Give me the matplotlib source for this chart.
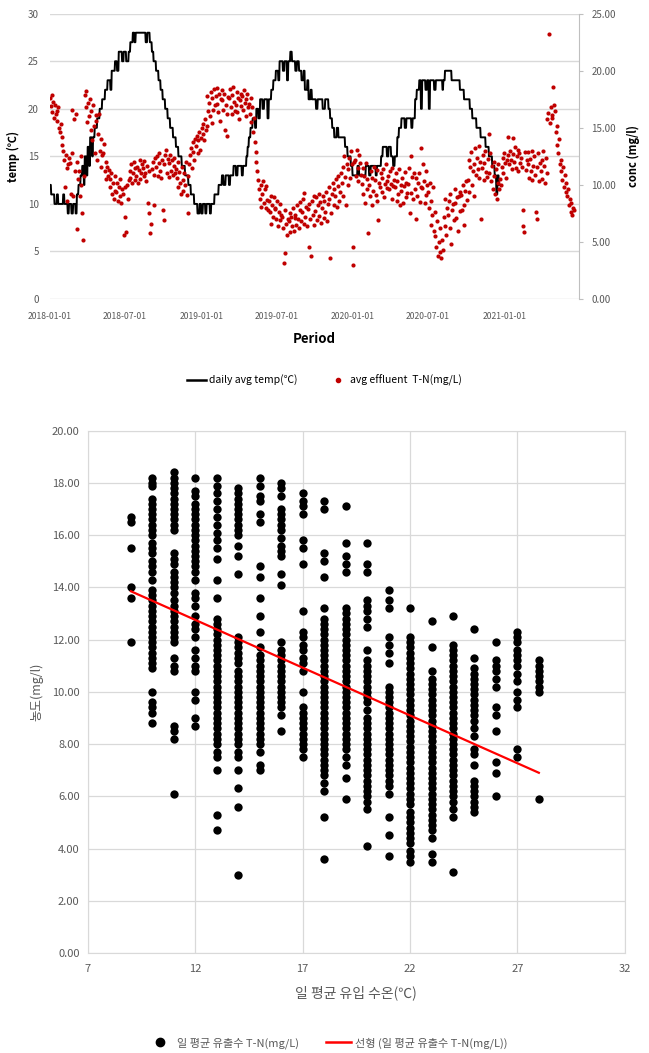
import numpy as np
import pandas as pd
import matplotlib.pyplot as plt
import matplotlib.dates as mdates
from matplotlib.lines import Line2D

plt.rcParams["font.family"] = ["Noto Sans CJK KR", "DejaVu Sans"]

# ---- top chart data: daily inflow temperature (run-length: level, days) ----
START = "2018-01-01"
TEMP_LEVELS = [12, 11, 10, 11, 10, 11, 10, 9, 10, 9, 10, 9, 11, 12, 13, 14, 12, 15, 13, 16,
               14, 17, 15, 17, 18, 19, 20, 21, 22, 23, 22, 24, 25, 24, 26, 25, 26, 25, 26, 27,
               28, 27, 28, 27, 28, 27, 26, 25, 24, 23, 22, 21, 20, 19, 18, 17, 16, 15, 14, 13,
               12, 11, 10, 9, 10, 9, 10, 9, 10, 9, 10, 11, 12, 13, 12, 13, 12, 13, 14, 13,
               14, 13, 14, 15, 16, 17, 18, 19, 18, 20, 19, 21, 20, 21, 19, 21, 22, 23, 24, 23,
               25, 24, 25, 23, 25, 26, 25, 24, 25, 24, 23, 24, 22, 23, 21, 22, 21, 20, 21, 20,
               21, 20, 19, 18, 17, 18, 17, 16, 15, 14, 13, 14, 13, 14, 13, 14, 13, 14, 15, 16,
               15, 16, 15, 14, 15, 17, 18, 19, 18, 19, 18, 19, 21, 22, 23, 20, 23, 22, 23, 20,
               23, 22, 23, 22, 23, 24, 23, 22, 21, 20, 19, 18, 17, 16, 15, 14, 13, 11, 13, 12]
TEMP_RUN_DAYS = [3, 8, 6, 3, 12, 3, 8, 3, 6, 4, 6, 3, 4, 5, 4, 4, 2, 4, 3, 4,
                 2, 5, 2, 4, 6, 6, 6, 7, 6, 7, 3, 8, 5, 4, 8, 4, 6, 6, 4, 6,
                 4, 3, 24, 4, 6, 5, 4, 6, 6, 5, 5, 6, 6, 6, 7, 7, 6, 8, 8, 8,
                 6, 8, 8, 5, 4, 4, 6, 3, 8, 3, 8, 10, 8, 4, 5, 8, 3, 8, 6, 4,
                 10, 3, 8, 3, 3, 4, 5, 6, 3, 5, 4, 6, 4, 8, 3, 6, 5, 6, 6, 3,
                 8, 4, 6, 3, 5, 4, 8, 4, 5, 6, 5, 3, 6, 3, 5, 3, 10, 4, 12, 6,
                 8, 4, 5, 5, 6, 4, 16, 6, 8, 4, 12, 4, 16, 8, 4, 12, 3, 10, 4, 10,
                 4, 6, 5, 4, 6, 4, 6, 8, 4, 12, 3, 6, 4, 6, 4, 3, 8, 4, 4, 3,
                 10, 4, 16, 2, 4, 16, 20, 10, 14, 6, 10, 10, 12, 8, 8, 6, 4, 3, 3, 4]

# ---- top chart data: effluent T-N, one reading every 2 days from START ----
CONC_STEP_DAYS = 2
CONC = [
    17.6, 16.9, 17.9, 16.4, 17.3, 15.9, 17.0, 16.2, 16.5, 15.6, 16.8, 15.0, 14.6, 15.3, 14.2, 13.5,
    13.0, 12.2, 9.8, 12.6, 11.5, 8.6, 11.8, 12.4, 11.9, 9.2, 12.8, 16.6, 9.0, 15.8, 11.2, 16.2,
    12.0, 6.1, 10.5, 11.2, 9.0, 12.5, 10.0, 7.5, 5.2, 10.8, 17.9, 16.8, 18.2, 15.5, 17.2, 16.0,
    17.5, 14.8, 16.5, 13.9, 17.0, 15.2, 12.8, 16.1, 15.6, 12.2, 14.5, 16.2, 13.0, 11.6, 14.0, 12.6,
    12.8, 13.6, 11.2, 10.5, 12.0, 11.6, 10.8, 11.3, 10.5, 9.8, 11.0, 9.2, 10.2, 8.8, 10.8, 9.5,
    9.4, 10.2, 8.6, 9.8, 9.0, 10.5, 8.4, 9.6, 9.2, 5.6, 9.8, 7.2, 5.9, 10.0, 8.8, 10.4,
    11.2, 10.6, 11.8, 10.2, 11.0, 12.0, 10.4, 11.5, 10.8, 11.6, 10.2, 11.3, 12.2, 10.5, 11.0, 11.8,
    11.5, 10.8, 12.1, 11.0, 10.3, 11.7, 8.4, 11.2, 7.5, 5.8, 6.6, 11.4, 12.0, 8.2, 10.9, 12.4,
    11.6, 12.5, 10.8, 11.9, 12.8, 11.2, 10.6, 12.2, 7.8, 6.9, 11.8, 12.6, 13.1, 11.0, 12.3, 10.7,
    11.9, 12.6, 11.2, 12.2, 10.9, 11.7, 12.4, 11.0, 11.4, 10.6, 12.0, 9.8, 11.1, 10.2, 9.2, 11.6,
    10.4, 9.5, 11.0, 10.0, 12.0, 9.1, 10.8, 7.5, 11.8, 12.6, 13.2, 11.5, 12.9, 13.8, 12.2, 14.0,
    13.4, 14.3, 12.8, 13.9, 14.6, 13.1, 14.1, 15.0, 14.5, 15.3, 13.9, 15.8, 14.8, 17.8, 15.2, 16.5,
    17.2, 16.0, 18.1, 15.4, 17.6, 16.6, 18.4, 17.0, 17.8, 18.5, 17.1, 16.4, 18.0, 15.6, 17.5, 18.3,
    17.4, 16.6, 18.0, 14.8, 17.0, 16.2, 14.3, 17.7, 17.6, 18.4, 16.8, 17.9, 16.2, 18.6, 17.3, 16.5,
    17.0, 18.1, 16.4, 17.6, 15.8, 17.4, 18.0, 16.9, 17.8, 16.6, 18.3, 17.2, 16.0, 17.5, 18.0, 16.8,
    17.1, 16.2, 17.6, 15.5, 16.8, 14.6, 15.9, 13.8, 12.9, 12.0, 11.2, 10.4, 9.6, 8.8, 10.0, 8.1,
    9.2, 10.3, 8.4, 9.6, 8.0, 9.9, 8.7, 7.8, 8.6, 7.6, 9.0, 6.6, 8.2, 7.2, 8.9, 7.9,
    8.0, 7.0, 8.6, 6.4, 7.6, 8.3, 6.9, 7.4, 7.2, 6.2, 3.2, 4.0, 7.8, 6.6, 5.6, 7.0,
    6.8, 7.5, 5.9, 7.2, 6.4, 8.0, 6.0, 7.1, 7.4, 6.5, 8.2, 7.0, 6.2, 7.8, 8.5, 6.8,
    7.6, 8.8, 6.6, 9.3, 7.2, 8.1, 6.4, 7.9, 8.3, 4.6, 7.0, 3.8, 8.6, 7.4, 6.5, 9.0,
    7.7, 8.9, 6.9, 8.2, 9.2, 7.3, 8.5, 6.7, 8.0, 9.0, 7.1, 8.6, 7.6, 9.4, 6.8, 8.3,
    8.8, 9.8, 3.6, 7.5, 9.2, 10.2, 8.2, 9.6, 9.0, 10.5, 8.1, 9.9, 10.8, 8.6, 9.4, 11.0,
    10.2, 11.6, 9.0, 12.5, 10.7, 8.2, 11.8, 10.0, 11.4, 12.4, 10.6, 13.0, 11.8, 3.0, 4.6, 12.0,
    12.2, 10.8, 13.1, 11.5, 10.3, 12.6, 11.9, 10.9, 10.1, 11.5, 9.2, 10.8, 8.4, 11.9, 9.6, 10.5,
    5.8, 10.0, 9.0, 11.2, 8.2, 10.6, 9.5, 11.6, 10.4, 9.1, 11.3, 8.6, 6.9, 10.2, 9.8, 11.0,
    10.6, 9.4, 11.4, 8.9, 10.1, 11.8, 9.7, 10.3, 10.8, 9.6, 11.2, 10.1, 8.8, 11.5, 9.9, 10.4,
    9.8, 11.0, 8.6, 10.3, 9.2, 11.4, 8.2, 10.0, 9.5, 10.6, 8.4, 9.9, 11.1, 8.9, 10.2, 9.3,
    10.1, 11.5, 7.5, 9.3, 12.5, 10.7, 8.8, 11.0, 9.6, 10.6, 7.0, 9.0, 10.2, 11.0, 8.5, 9.8,
    13.2, 9.7, 11.8, 10.3, 8.4, 11.2, 9.1, 10.0, 9.4, 8.0, 10.2, 6.5, 8.6, 7.4, 9.8, 6.0,
    7.6, 5.5, 4.6, 6.8, 3.8, 5.0, 4.1, 6.2, 3.6, 5.2, 4.3, 7.2, 8.8, 6.4, 5.6, 8.0,
    7.4, 8.6, 6.2, 9.2, 4.8, 7.8, 8.3, 6.9, 8.4, 9.6, 7.1, 8.9, 6.0, 9.0, 7.7, 9.4,
    9.1, 7.8, 10.0, 8.2, 6.5, 9.5, 10.3, 8.7, 10.4, 12.2, 9.4, 11.6, 12.9, 10.0, 11.2, 9.0,
    11.8, 13.2, 10.9, 12.4, 11.4, 13.4, 10.6, 12.0, 7.0, 11.5, 12.6, 10.4, 11.9, 13.0, 11.1, 10.7,
    12.3, 14.5, 11.0, 12.8, 10.3, 11.7, 9.6, 12.0, 10.8, 9.2, 11.4, 8.8, 10.2, 11.8, 9.6, 10.5,
    10.0, 11.6, 12.4, 11.0, 12.8, 11.9, 10.6, 12.2, 14.2, 12.6, 11.8, 13.0, 12.2, 11.4, 14.1, 12.7,
    12.0, 13.3, 11.5, 12.5, 13.1, 11.2, 12.8, 11.9, 12.4, 11.6, 7.8, 6.4, 5.9, 12.9, 11.3, 12.2,
    11.8, 12.9, 10.6, 12.3, 11.2, 13.0, 10.4, 11.7, 12.5, 10.9, 7.6, 7.0, 11.6, 12.8, 10.3, 11.9,
    11.2, 12.2, 10.5, 13.0, 11.7, 10.2, 12.4, 11.0, 15.8, 16.3, 23.2, 15.4, 16.8, 15.9, 16.1, 18.6,
    17.0, 16.5, 14.6, 15.2, 13.5, 12.8, 14.0, 11.8, 11.2, 12.2, 10.4, 11.6, 9.8, 10.9, 9.4, 10.2,
    9.0, 9.6, 8.2, 8.8, 7.6, 8.4, 7.4, 8.0, 7.8,
]
DATE_TICKS = ["2018-01-01", "2018-07-01", "2019-01-01", "2019-07-01",
              "2020-01-01", "2020-07-01", "2021-01-01"]

# ---- bottom chart data: effluent T-N grouped by daily inflow temperature ----
TN_09 = [16.7, 16.5, 15.5, 14.0, 13.6, 11.9]
TN_10 = [18.2, 18.0, 17.9, 17.4, 17.2, 17.0, 16.8, 16.6, 16.4, 16.2, 16.0, 15.7, 15.5, 15.3, 15.0,
         14.8, 14.6, 14.3, 13.9, 13.7, 13.5, 13.3, 13.1, 12.9, 12.7, 12.5, 12.3, 12.1, 11.9, 11.7,
         11.5, 11.3, 11.1, 10.9, 10.0, 9.6, 9.4, 9.2, 8.8]
TN_11 = [18.4, 18.2, 18.0, 17.8, 17.6, 17.4, 17.2, 17.0, 16.8, 16.6, 16.4, 16.2, 15.3, 15.1, 14.9,
         14.6, 14.4, 14.2, 14.0, 13.8, 13.5, 13.3, 13.1, 12.9, 12.7, 12.5, 12.3, 12.1, 11.9, 11.3,
         11.0, 10.8, 8.7, 8.5, 8.2, 6.1]
TN_12 = [18.2, 17.7, 17.5, 17.2, 17.0, 16.8, 16.6, 16.4, 16.2, 16.0, 15.8, 15.6, 15.4, 15.2, 15.0,
         14.8, 14.6, 14.3, 13.8, 13.6, 13.3, 12.9, 12.6, 12.4, 12.1, 11.6, 11.3, 11.0, 10.8, 10.0,
         9.7, 9.0, 8.7]
TN_13 = [18.2, 17.9, 17.6, 17.3, 17.0, 16.7, 16.4, 16.1, 15.8, 15.5, 15.1, 14.3, 13.6, 12.8, 12.6,
         12.4, 12.2, 12.0, 11.8, 11.6, 11.4, 11.2, 11.0, 10.8, 10.6, 10.4, 10.2, 10.0, 9.8, 9.6,
         9.4, 9.2, 9.0, 8.8, 8.6, 8.4, 8.2, 8.0, 7.7, 7.5, 7.0, 5.3, 4.7]
TN_14 = [17.8, 17.6, 17.4, 17.2, 17.0, 16.8, 16.6, 16.4, 16.2, 16.0, 15.6, 15.2, 14.5, 12.1, 11.9,
         11.7, 11.5, 11.3, 11.1, 10.8, 10.6, 10.4, 10.2, 10.0, 9.8, 9.6, 9.4, 9.2, 9.0, 8.8,
         8.6, 8.4, 8.2, 8.0, 7.7, 7.5, 7.0, 6.3, 5.6, 3.0]
TN_15 = [18.2, 17.9, 17.5, 17.3, 16.8, 16.5, 14.8, 14.4, 13.6, 12.9, 12.3, 11.7, 11.4, 11.2, 11.0,
         10.8, 10.6, 10.4, 10.2, 10.0, 9.8, 9.6, 9.4, 9.2, 9.0, 8.8, 8.6, 8.4, 8.2, 8.0,
         7.7, 7.2, 7.0]
TN_16 = [18.0, 17.8, 17.5, 17.0, 16.8, 16.6, 16.4, 16.2, 15.9, 15.6, 15.4, 15.2, 14.5, 14.1, 11.9,
         11.6, 11.4, 11.2, 11.0, 10.8, 10.6, 10.4, 10.2, 10.0, 9.8, 9.6, 9.4, 9.1, 8.5]
TN_17 = [17.6, 17.3, 17.1, 16.8, 15.8, 15.5, 14.9, 13.1, 12.3, 12.1, 11.8, 11.6, 11.3, 11.1, 10.8,
         10.0, 9.4, 9.2, 9.0, 8.8, 8.6, 8.4, 8.2, 8.0, 7.8, 7.5]
TN_18 = [17.3, 17.0, 15.3, 15.0, 14.4, 13.2, 12.8, 12.6, 12.4, 12.2, 12.0, 11.8, 11.6, 11.4, 11.2,
         11.0, 10.8, 10.6, 10.4, 10.2, 10.0, 9.8, 9.6, 9.4, 9.2, 9.0, 8.8, 8.6, 8.4, 8.2,
         8.0, 7.8, 7.6, 7.4, 7.2, 7.0, 6.8, 6.5, 6.2, 5.2, 3.6]
TN_19 = [17.1, 15.7, 15.2, 14.9, 14.6, 13.2, 13.0, 12.8, 12.6, 12.4, 12.2, 12.0, 11.8, 11.6, 11.4,
         11.2, 11.0, 10.8, 10.6, 10.4, 10.2, 10.0, 9.8, 9.6, 9.4, 9.2, 9.0, 8.8, 8.6, 8.4,
         8.2, 8.0, 7.8, 7.5, 7.2, 6.7, 5.9]
TN_20 = [15.7, 14.9, 14.6, 13.5, 13.3, 13.1, 12.8, 12.5, 11.6, 11.2, 11.0, 10.8, 10.6, 10.4, 10.2,
         10.0, 9.8, 9.6, 9.3, 9.0, 8.8, 8.6, 8.4, 8.2, 8.0, 7.8, 7.6, 7.4, 7.2, 7.0,
         6.8, 6.6, 6.4, 6.2, 6.0, 5.8, 5.5, 4.1]
TN_21 = [13.9, 13.5, 13.2, 12.1, 11.8, 11.5, 11.1, 10.2, 10.0, 9.8, 9.6, 9.4, 9.2, 9.0, 8.8,
         8.6, 8.4, 8.2, 8.0, 7.8, 7.6, 7.4, 7.2, 7.0, 6.8, 6.6, 6.4, 6.1, 5.2, 4.5, 3.7]
TN_22 = [13.2, 12.1, 11.9, 11.7, 11.5, 11.3, 11.1, 10.9, 10.7, 10.5, 10.3, 10.1, 9.9, 9.7, 9.5,
         9.3, 9.1, 8.9, 8.7, 8.5, 8.3, 8.1, 7.9, 7.7, 7.5, 7.3, 7.1, 6.9, 6.7, 6.5,
         6.3, 6.1, 5.9, 5.7, 5.4, 5.2, 5.0, 4.8, 4.6, 4.4, 4.2, 3.9, 3.7, 3.5]
TN_23 = [12.7, 11.7, 10.8, 10.5, 10.3, 10.1, 9.9, 9.7, 9.5, 9.3, 9.1, 8.9, 8.7, 8.5, 8.3,
         8.1, 7.9, 7.7, 7.5, 7.3, 7.1, 6.9, 6.7, 6.5, 6.3, 6.1, 5.9, 5.7, 5.5, 5.3,
         5.1, 4.9, 4.7, 4.4, 3.8, 3.5]
TN_24 = [12.9, 11.8, 11.6, 11.4, 11.2, 11.0, 10.8, 10.6, 10.4, 10.2, 10.0, 9.8, 9.6, 9.4, 9.2,
         9.0, 8.8, 8.6, 8.4, 8.2, 8.0, 7.8, 7.6, 7.4, 7.2, 7.0, 6.8, 6.6, 6.4, 6.2,
         6.0, 5.8, 5.5, 5.2, 3.1]
TN_25 = [12.4, 11.3, 10.9, 10.7, 10.5, 10.3, 10.1, 9.9, 9.7, 9.5, 9.3, 9.1, 8.9, 8.6, 8.3,
         7.8, 7.6, 7.2, 6.6, 6.4, 6.2, 6.0, 5.8, 5.6, 5.4]
TN_26 = [11.9, 11.2, 11.0, 10.8, 10.5, 10.2, 9.4, 9.1, 8.5, 7.3, 6.9, 6.0]
TN_27 = [12.3, 12.1, 11.9, 11.6, 11.4, 11.2, 11.0, 10.7, 10.4, 10.0, 9.7, 9.4, 7.8, 7.5]
TN_28 = [11.2, 11.0, 10.8, 10.6, 10.4, 10.2, 10.0, 5.9]

SCATTER_TEMPS = [9, 10, 11, 12, 13, 14, 15, 16, 17, 18, 19, 20, 21, 22, 23, 24, 25, 26, 27, 28]
SCATTER_GROUPS = [TN_09, TN_10, TN_11, TN_12, TN_13, TN_14, TN_15, TN_16, TN_17, TN_18,
                  TN_19, TN_20, TN_21, TN_22, TN_23, TN_24, TN_25, TN_26, TN_27, TN_28]

# linear trendline end points (as shown in the chart)
TREND_X = [9, 28]
TREND_Y = [13.85, 6.9]

GRID = "#d9d9d9"
TXT = "#595959"

fig = plt.figure(figsize=(6.49, 10.53), dpi=100)

# ---------------- top: time series ----------------
ax = fig.add_axes([0.077, 0.716, 0.815, 0.271])
start = pd.Timestamp(START)
temp_daily = np.repeat(TEMP_LEVELS, TEMP_RUN_DAYS)
temp_dates = pd.date_range(start, periods=len(temp_daily), freq="D")
conc_dates = pd.date_range(start, periods=len(CONC), freq=f"{CONC_STEP_DAYS}D")

ax.plot(temp_dates, temp_daily, color="black", lw=1.4, zorder=3)
ax.set_ylim(0, 30)
ax.set_yticks(range(0, 31, 5))
ax.set_xlim(start, pd.Timestamp("2021-06-30"))
ax.set_xticks(pd.to_datetime(DATE_TICKS))
ax.xaxis.set_major_formatter(mdates.DateFormatter("%Y-%m-%d"))
ax.grid(axis="y", color=GRID, lw=1.0)
ax.set_axisbelow(True)
for s in ["top", "right", "left", "bottom"]:
    ax.spines[s].set_visible(False)
ax.tick_params(axis="both", length=0, colors=TXT)
ax.tick_params(axis="y", labelsize=7, pad=8)
ax.tick_params(axis="x", labelsize=6.2, pad=9)
ax.set_ylabel("temp (℃)", fontsize=8, fontweight="bold", labelpad=6)
ax.set_xlabel("Period", fontsize=9.5, fontweight="bold", labelpad=8)

ax2 = ax.twinx()
ax2.scatter(conc_dates, CONC, s=9, color="#c00000", linewidths=0, zorder=4)
ax2.set_ylim(0, 25)
ax2.set_yticks(range(0, 26, 5))
ax2.yaxis.set_major_formatter(lambda v, p: f"{v:.2f}")
for s in ["top", "left", "bottom"]:
    ax2.spines[s].set_visible(False)
ax2.spines["right"].set_color("#bfbfbf")
ax2.tick_params(axis="y", length=3, color="#bfbfbf", colors=TXT, labelsize=7, pad=6)
ax2.set_ylabel("conc (mg/l)", fontsize=8, fontweight="bold", labelpad=8)

top_handles = [
    Line2D([], [], color="black", lw=1.8),
    Line2D([], [], color="#c00000", marker="o", ls="none", markersize=3),
]
fig.legend(top_handles, ["daily avg temp(℃)", "avg effluent  T-N(mg/L)"],
           loc="center", bbox_to_anchor=(0.5, 0.639), ncol=2, frameon=False,
           fontsize=7.5, handlelength=1.8, columnspacing=3, handletextpad=0.3)

# ---------------- bottom: scatter ----------------
bx = fig.add_axes([0.1356, 0.095, 0.827, 0.496])
for t, vals in zip(SCATTER_TEMPS, SCATTER_GROUPS):
    bx.scatter([t] * len(vals), vals, s=36, color="black", linewidths=0, zorder=3)
bx.plot(TREND_X, TREND_Y, color="#ff0000", lw=1.6, zorder=4)
bx.set_xlim(7, 32)
bx.set_ylim(0, 20)
bx.set_xticks(range(7, 33, 5))
bx.set_yticks(np.arange(0, 20.1, 2))
bx.yaxis.set_major_formatter(lambda v, p: f"{v:.2f}")
bx.grid(True, color=GRID, lw=0.9)
bx.set_axisbelow(True)
for s in bx.spines.values():
    s.set_color(GRID)
bx.tick_params(axis="both", length=0, colors=TXT, labelsize=8)
bx.tick_params(axis="x", pad=8)
bx.tick_params(axis="y", pad=6)
bx.set_xlabel("일 평균 유입 수온(℃)", fontsize=10, color=TXT, labelpad=8)
bx.set_ylabel("농도(mg/l)", fontsize=9, color=TXT, labelpad=6)

bottom_handles = [
    Line2D([], [], color="black", marker="o", ls="none", markersize=6),
    Line2D([], [], color="#ff0000", lw=1.8),
]
fig.legend(bottom_handles, ["일 평균 유출수 T-N(mg/L)", "선형 (일 평균 유출수 T-N(mg/L))"],
           loc="center", bbox_to_anchor=(0.505, 0.0095), ncol=2, frameon=False,
           fontsize=8, handlelength=2.2, columnspacing=2.5, handletextpad=0.4,
           labelcolor=TXT)

fig.savefig("out.png", dpi=100)
